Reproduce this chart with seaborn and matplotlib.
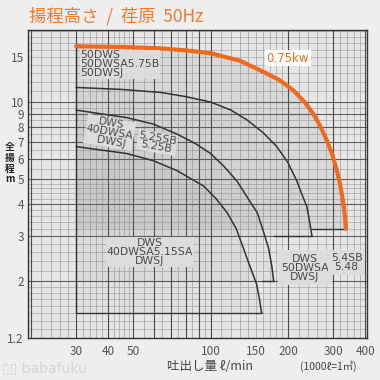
import numpy as np
import pandas as pd
import seaborn as sns
import matplotlib
matplotlib.use('Agg')
import matplotlib.pyplot as plt
from matplotlib.ticker import NullFormatter, FixedLocator

# pump curves (flow l/min, head m)
q_515 = [30, 47, 60, 74, 94, 105, 116, 126, 134, 142, 151, 155, 158]
h_515 = [6.7, 6.3, 5.9, 5.4, 4.7, 4.2, 3.7, 3.2, 2.7, 2.3, 1.95, 1.7, 1.5]

q_525 = [30, 47, 60, 74, 87, 100, 113, 127, 140, 152, 161, 168, 173, 176]
h_525 = [9.3, 8.7, 8.2, 7.5, 6.9, 6.3, 5.6, 4.9, 4.2, 3.7, 3.1, 2.7, 2.3, 2.0]

q_54 = [30, 45, 64, 80, 100, 120, 139, 160, 181, 200, 217, 228, 237, 243, 248]
h_54 = [11.4, 11.2, 10.9, 10.5, 10.0, 9.3, 8.5, 7.6, 6.7, 5.8, 4.9, 4.3, 3.9, 3.4, 3.0]

q_575 = [30, 45, 64, 80, 100, 130, 156, 185, 210, 232, 251, 268, 283, 298, 310, 320, 329, 333, 336]
h_575 = [16.5, 16.4, 16.2, 15.9, 15.5, 14.5, 13.3, 12.2, 11.1, 10.0, 9.0, 8.0, 7.1, 6.2, 5.4, 4.7, 4.0, 3.6, 3.2]

x_ticks = [30, 40, 50, 100, 150, 200, 300, 400]
y_ticks = [1.2, 2, 3, 4, 5, 6, 7, 8, 9, 10, 15]

sns.set_style('white')
plt.rcParams['font.family'] = ['Noto Sans CJK JP', 'DejaVu Sans']

fig = plt.figure(figsize=(3.8, 3.8), dpi=100, facecolor='#eeeeee')
ax = fig.add_axes([28/380, 1 - 338/380, 339/380, 308/380])
ax.set_facecolor('#e6e6e6')
ax.set_xscale('log')
ax.set_yscale('log')
ax.set_xlim(19.5, 406)
ax.set_ylim(1.2, 19.1)

# log paper grid: fine steps, darker lines on whole numbers
subs = list(np.arange(1, 2, 0.1)) + list(np.arange(2, 5, 0.2)) + list(np.arange(5, 10, 0.5))
fine = [d * s for d in [1, 10, 100] for s in subs]
mid = [d * s for d in [1, 10, 100] for s in range(1, 10)]
for v in fine:
    ax.axvline(v, color='#a2a2a2', lw=0.5, zorder=0)
    ax.axhline(v, color='#a8a8a8', lw=0.5, zorder=0)
for v in mid:
    ax.axvline(v, color='#4a4a4a', lw=0.8, zorder=0)
    ax.axhline(v, color='#5a5a5a', lw=0.8, zorder=0)

curves = [(q_575, h_575), (q_54, h_54), (q_525, h_525), (q_515, h_515)]
alphas = [0.13, 0.05, 0.05, 0.05]
for i, (q, h) in enumerate(curves):
    ax.fill(q + [q[0]], h + [h[-1]], color='#7a7a7a', alpha=alphas[i], lw=0, zorder=1)
    # bottom edge only shows outside the next inner range
    start = curves[i + 1][0][-1] if i + 1 < len(curves) else q[0]
    ax.plot([start, q[-1]], [h[-1], h[-1]], color='#333333', lw=1.0, zorder=2)
ax.plot([q_575[0], q_575[0]], [h_575[0], h_515[-1]], color='#333333', lw=1.0, zorder=2)

for q, h in curves[1:]:
    df = pd.DataFrame({'q': q, 'h': h})
    sns.lineplot(data=df, x='q', y='h', ax=ax, color='#333333', lw=1.1,
                 sort=False, zorder=3)

df = pd.DataFrame({'q': q_575, 'h': h_575})
sns.lineplot(data=df, x='q', y='h', ax=ax, color='#f06a1e', lw=3.0,
             sort=False, zorder=4)

box = dict(facecolor='#dcdcdc', edgecolor='none', pad=0.5)
tc = '#4a4a4a'
fs = 7.8
dj = ['DejaVu Sans']
ax.text(31.2, 15.9, '50DWS\n50DWSA5.75B\n50DWSJ', fontsize=fs, color=tc,
        ha='left', va='top', linespacing=0.88, bbox=box, zorder=5, family=dj)
ax.text(40.5, 7.6, 'DWS\n40DWSA\n  DWSJ', fontsize=fs, color=tc, ha='center',
        va='center', linespacing=0.88, rotation=-10, bbox=box, zorder=5, family=dj)
ax.text(62, 6.95, '5.25SB\n5.25B', fontsize=fs, color=tc, ha='center',
        va='center', linespacing=0.88, rotation=-10, bbox=box, zorder=5, family=dj)
ax.text(58, 2.6, 'DWS\n40DWSA5.15SA\nDWSJ', fontsize=fs, color=tc, ha='center',
        va='center', linespacing=0.88, bbox=box, zorder=5, family=dj)
ax.text(233, 2.26, 'DWS\n50DWSA\nDWSJ', fontsize=fs, color=tc, ha='center',
        va='center', linespacing=0.88,
        bbox=dict(facecolor='#dcdcdc', edgecolor='none', pad=2.5), zorder=5, family=dj)
ax.text(338, 2.36, '5.4SB\n5.48', fontsize=fs, color=tc, ha='center',
        va='center', linespacing=0.88,
        bbox=dict(facecolor='#dcdcdc', edgecolor='none', pad=2.0), zorder=6, family=dj)
ax.text(200, 14.8, '0.75kw', fontsize=8.5, color='#f06a1e', ha='center',
        va='center', bbox=dict(facecolor='white', edgecolor='none', pad=1.0),
        zorder=5, family=dj)

ax.xaxis.set_major_locator(FixedLocator(x_ticks))
ax.set_xticklabels([str(v) for v in x_ticks])
ax.yaxis.set_major_locator(FixedLocator(y_ticks))
ax.set_yticklabels([str(v) for v in y_ticks])
ax.xaxis.set_minor_formatter(NullFormatter())
ax.yaxis.set_minor_formatter(NullFormatter())
ax.tick_params(which='both', length=0, labelsize=8.5, labelcolor='#555555')
ax.tick_params(axis='x', pad=5)
ax.tick_params(axis='y', pad=3)
ax.set_xlabel('')
ax.set_ylabel('')
for s in ax.spines.values():
    s.set_color('#333333')
    s.set_linewidth(1.0)

fig.text(29/380, 1 - 16/380, '揚程高さ  /  荏原  50Hz', color='#f47a2c',
         fontsize=12.5, ha='left', va='center')
fig.text(10/380, 1 - 163/380, '全\n揚\n程\nm', color='#222222', fontsize=7,
         fontweight='bold', ha='center', va='center', linespacing=1.1)
fig.text(210/380, 1 - 366/380, '吐出し量 ℓ/min', color='#444444', fontsize=9,
         ha='center', va='center')
fig.text(328/380, 1 - 366/380, '(1000ℓ=1㎥)', color='#444444', fontsize=7.5,
         ha='center', va='center')
fig.text(2/380, 1 - 368/380, '▯▯ babafuku', color='#d6d6d6', fontsize=10,
         ha='left', va='center', family=dj)

fig.savefig('out.png', dpi=100, facecolor=fig.get_facecolor())
